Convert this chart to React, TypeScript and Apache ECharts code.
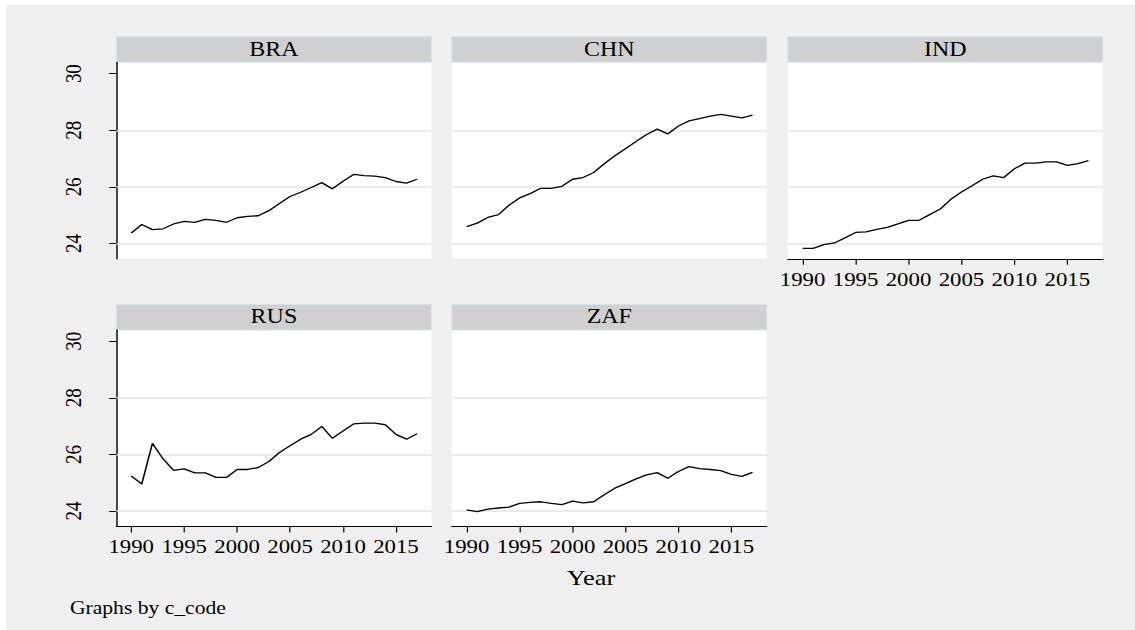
import React, { useEffect, useRef } from "react";
import * as echarts from "echarts";

// Years on the horizontal axis
const years = [
  1990, 1991, 1992, 1993, 1994, 1995, 1996, 1997, 1998, 1999,
  2000, 2001, 2002, 2003, 2004, 2005, 2006, 2007, 2008, 2009,
  2010, 2011, 2012, 2013, 2014, 2015, 2016, 2017,
];

const countryCodes = ["BRA", "CHN", "IND", "RUS", "ZAF"];

const braValues = [
  24.37, 24.67, 24.49, 24.52, 24.69, 24.78, 24.75, 24.85, 24.82, 24.75,
  24.91, 24.96, 24.98, 25.16, 25.41, 25.66, 25.81, 25.98, 26.15, 25.93,
  26.2, 26.44, 26.4, 26.38, 26.33, 26.19, 26.13, 26.27,
];
const chnValues = [
  24.6, 24.72, 24.92, 25.02, 25.35, 25.61, 25.76, 25.95, 25.95, 26.02,
  26.27, 26.33, 26.51, 26.82, 27.1, 27.35, 27.6, 27.85, 28.04, 27.87,
  28.15, 28.33, 28.41, 28.5, 28.56, 28.5, 28.44, 28.53,
];
const indValues = [
  23.83, 23.83, 23.96, 24.02, 24.2, 24.39, 24.41, 24.5, 24.57, 24.69,
  24.82, 24.82, 25.02, 25.22, 25.56, 25.82, 26.04, 26.27, 26.39, 26.33,
  26.64, 26.84, 26.84, 26.88, 26.88, 26.76, 26.82, 26.93,
];
const rusValues = [
  25.24, 24.96, 26.39, 25.85, 25.44, 25.49, 25.35, 25.35, 25.19, 25.19,
  25.47, 25.47, 25.54, 25.75, 26.07, 26.31, 26.54, 26.71, 26.99, 26.57,
  26.83, 27.08, 27.11, 27.11, 27.05, 26.71, 26.54, 26.73,
];
const zafValues = [
  24.04, 23.98, 24.07, 24.11, 24.14, 24.27, 24.31, 24.33, 24.27, 24.23,
  24.35, 24.29, 24.33, 24.58, 24.81, 24.97, 25.14, 25.28, 25.36, 25.16,
  25.4, 25.57, 25.5, 25.47, 25.43, 25.3, 25.23, 25.37,
];

const yTickLabels = [24, 26, 28, 30];
const yGridValues = [24, 26, 28];
const xTickLabels = [1990, 1995, 2000, 2005, 2010, 2015];

const xTitle = "Year";
const byNote = "Graphs by c_code";

// The whole graph is drawn narrow and widened horizontally by CSS.
const STRETCH = 1.2;
const PAGE_W = 1135;
const PAGE_H = 630;
const CHART_W = PAGE_W / STRETCH;

const SERIF = "'Liberation Serif', 'Times New Roman', serif";

// panel layout (chart units)
const colLeft = [97, 376.5, 656.5];
const panelW = 262.5;
const rowStripTop = [36.8, 304.4];
const stripH = 25.5;
const plotH = 196.5;

const panels = [
  { code: countryCodes[0], values: braValues, col: 0, row: 0, showX: false, showY: true },
  { code: countryCodes[1], values: chnValues, col: 1, row: 0, showX: false, showY: false },
  { code: countryCodes[2], values: indValues, col: 2, row: 0, showX: true, showY: false },
  { code: countryCodes[3], values: rusValues, col: 0, row: 1, showX: true, showY: true },
  { code: countryCodes[4], values: zafValues, col: 1, row: 1, showX: true, showY: false },
];

const plainNumber = (v: number) => String(v);

function buildOption(): echarts.EChartsOption {
  const grids: any[] = [];
  const xAxes: any[] = [];
  const yAxes: any[] = [];
  const series: any[] = [];
  const graphics: any[] = [
    {
      type: "rect",
      shape: { x: 5, y: 5, width: CHART_W, height: PAGE_H },
      style: { fill: "#efefef" },
      z: -10,
      silent: true,
    },
  ];

  panels.forEach((p, i) => {
    const left = colLeft[p.col];
    const stripTop = rowStripTop[p.row];
    const plotTop = stripTop + stripH;

    grids.push({
      left,
      top: plotTop,
      width: panelW,
      height: plotH,
      show: true,
      backgroundColor: "#ffffff",
      borderWidth: 0,
      containLabel: false,
    });

    xAxes.push({
      type: "value",
      gridIndex: i,
      min: 1988.6,
      max: 2018.35,
      splitLine: { show: false },
      axisLine: { show: p.showX, onZero: false, lineStyle: { color: "#000", width: 1.2 } },
      axisTick: {
        show: p.showX,
        length: 6,
        customValues: xTickLabels,
        lineStyle: { color: "#000", width: 1 },
      },
      axisLabel: {
        show: p.showX,
        customValues: xTickLabels,
        formatter: plainNumber,
        margin: 11,
        color: "#000",
        fontFamily: SERIF,
        fontSize: 19,
      },
    });

    yAxes.push({
      type: "value",
      gridIndex: i,
      min: 23.46,
      max: 30.4,
      splitLine: { show: false },
      axisLine: { show: p.showY, onZero: false, lineStyle: { color: "#000", width: 1.2 } },
      axisTick: {
        show: p.showY,
        length: 6,
        customValues: yTickLabels,
        lineStyle: { color: "#000", width: 1 },
      },
      axisLabel: {
        show: p.showY,
        customValues: yTickLabels,
        formatter: plainNumber,
        rotate: 90,
        margin: 26,
        color: "#000",
        fontFamily: SERIF,
        fontSize: 19,
      },
    });

    series.push({
      type: "line",
      xAxisIndex: i,
      yAxisIndex: i,
      data: years.map((yr, k) => [yr, p.values[k]]),
      showSymbol: false,
      symbol: "none",
      lineStyle: { color: "#000", width: 1.3 },
      silent: true,
      z: 3,
      markLine: {
        silent: true,
        symbol: "none",
        z: 1,
        label: { show: false },
        lineStyle: { color: "#e3e3e3", width: 1.6, type: "solid" },
        data: yGridValues.map((v) => ({ yAxis: v })),
      },
    });

    // title strip above each panel
    graphics.push({
      type: "rect",
      shape: { x: left, y: stripTop, width: panelW, height: stripH },
      style: { fill: "#d0d0d0", stroke: "#d9e4ea", lineWidth: 1 },
      silent: true,
    });
    graphics.push({
      type: "text",
      x: left + panelW / 2,
      y: stripTop + stripH / 2 - 0.5,
      style: {
        text: p.code,
        fill: "#000",
        font: `20px ${SERIF}`,
        align: "center",
        verticalAlign: "middle",
      },
      silent: true,
    });
  });

  graphics.push({
    type: "text",
    x: 492.5,
    y: 577,
    style: {
      text: xTitle,
      fill: "#000",
      font: `22px ${SERIF}`,
      align: "center",
      verticalAlign: "middle",
    },
    silent: true,
  });
  graphics.push({
    type: "text",
    x: 58.3,
    y: 608,
    style: {
      text: byNote,
      fill: "#000",
      font: `18px ${SERIF}`,
      align: "left",
      verticalAlign: "middle",
    },
    silent: true,
  });

  return {
    animation: false,
    backgroundColor: "#ffffff",
    grid: grids,
    xAxis: xAxes,
    yAxis: yAxes,
    series,
    graphic: graphics,
  };
}

export default function App() {
  const ref = useRef<HTMLDivElement>(null);

  useEffect(() => {
    if (!ref.current) return;
    const chart = echarts.init(ref.current, null, { renderer: "svg" });
    chart.setOption(buildOption());
    return () => {
      chart.dispose();
    };
  }, []);

  return (
    <div
      style={{
        position: "absolute",
        left: 0,
        top: 0,
        width: PAGE_W,
        height: PAGE_H,
        overflow: "hidden",
        background: "#ffffff",
      }}
    >
      <div
        ref={ref}
        style={{
          width: CHART_W,
          height: PAGE_H,
          transform: `scaleX(${STRETCH})`,
          transformOrigin: "0 0",
        }}
      />
    </div>
  );
}
